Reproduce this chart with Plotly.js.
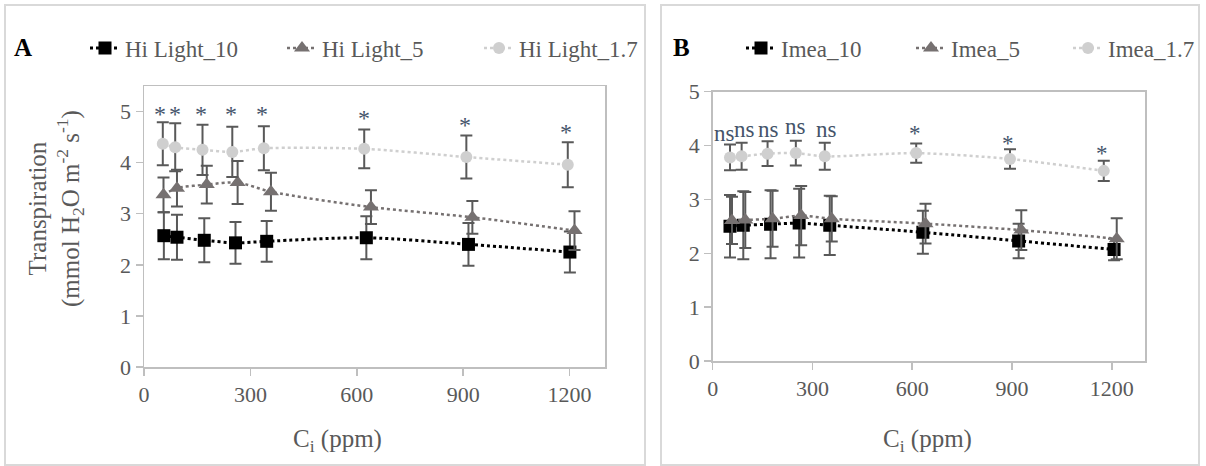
<!DOCTYPE html>
<html>
<head>
<meta charset="utf-8">
<script src="https://cdn.plot.ly/plotly-3.0.1.min.js"></script>
<style>html,body{margin:0;padding:0;background:#fff;overflow:hidden;}#chart{width:1206px;height:466px;}</style>
</head>
<body>
<div id="chart"></div>
<script>
// ---------- Panel A data (Hi Light) ----------
const hi10X = [56, 93, 170, 258, 346, 627, 915, 1201];
const hi10Y = [2.57, 2.54, 2.48, 2.43, 2.46, 2.53, 2.40, 2.25];
const hi10Err = [0.46, 0.44, 0.43, 0.41, 0.40, 0.42, 0.42, 0.40];
const hi5X = [55, 93, 177, 264, 358, 640, 926, 1214];
const hi5Y = [3.37, 3.50, 3.57, 3.61, 3.43, 3.13, 2.93, 2.67];
const hi5Err = [0.34, 0.36, 0.37, 0.42, 0.37, 0.33, 0.32, 0.38];
const hi17X = [53, 88, 165, 249, 338, 621, 909, 1195];
const hi17Y = [4.37, 4.30, 4.25, 4.21, 4.28, 4.27, 4.11, 3.96];
const hi17Err = [0.42, 0.47, 0.49, 0.49, 0.43, 0.38, 0.42, 0.44];
const sigAX = [45, 87, 161, 246, 334, 619, 904, 1190];
const sigAY = [5.04, 5.04, 5.04, 5.04, 5.04, 4.97, 4.83, 4.70];
const sigAText = ["*", "*", "*", "*", "*", "*", "*", "*"];

// ---------- Panel B data (Imea) ----------
const im10X = [52, 92, 174, 260, 352, 632, 920, 1207];
const im10Y = [2.50, 2.52, 2.54, 2.56, 2.52, 2.39, 2.23, 2.07];
const im10Err = [0.58, 0.63, 0.63, 0.64, 0.55, 0.40, 0.32, 0.20];
const im5X = [58, 98, 180, 266, 358, 640, 928, 1215];
const im5Y = [2.61, 2.62, 2.64, 2.70, 2.64, 2.55, 2.43, 2.27];
const im5Err = [0.44, 0.52, 0.52, 0.55, 0.42, 0.37, 0.37, 0.38];
const im17X = [52, 87, 165, 250, 337, 612, 894, 1176];
const im17Y = [3.78, 3.80, 3.85, 3.86, 3.80, 3.86, 3.75, 3.53];
const im17Err = [0.24, 0.25, 0.23, 0.23, 0.25, 0.18, 0.18, 0.19];
const sigBX = [34, 97, 167, 250, 342, 607, 887, 1172];
const sigBY = [4.22, 4.29, 4.29, 4.35, 4.29, 4.31, 4.14, 3.94];
const sigBText = ["ns", "ns", "ns", "ns", "ns", "*", "*", "*"];

const xTicks = [0, 300, 600, 900, 1200];
const yTicks = [0, 1, 2, 3, 4, 5];

const SERIF = "Liberation Serif";
const C10 = "#000000", C5 = "#767171", C17 = "#cfcfcf", ERR = "#595959";
const W = 1206, H = 466;
const px = v => v / W, py = v => 1 - v / H;

function series(x, y, err, name, color, symbol, size, lw, xa, ya, legend) {
  return {
    type: "scatter", mode: "lines+markers", x: x, y: y, name: name,
    xaxis: xa, yaxis: ya, legend: legend,
    line: {color: color, width: lw, dash: "dot", shape: "spline", smoothing: 0.8},
    marker: {color: color, symbol: symbol, size: size},
    error_y: {type: "data", array: err, visible: true, color: ERR, thickness: 2, width: 6}
  };
}

const traces = [
  series(hi10X, hi10Y, hi10Err, "Hi Light_10", C10, "square", 13, 3, "x", "y", "legend"),
  series(hi5X, hi5Y, hi5Err, "Hi Light_5", C5, "triangle-up", 14, 2.5, "x", "y", "legend"),
  series(hi17X, hi17Y, hi17Err, "Hi Light_1.7", C17, "circle", 12, 2.5, "x", "y", "legend"),
  series(im10X, im10Y, im10Err, "Imea_10", C10, "square", 13, 3, "x2", "y2", "legend2"),
  series(im5X, im5Y, im5Err, "Imea_5", C5, "triangle-up", 14, 2.5, "x2", "y2", "legend2"),
  series(im17X, im17Y, im17Err, "Imea_1.7", C17, "circle", 12, 2.5, "x2", "y2", "legend3")
];

const axisCommon = {
  showline: true, linecolor: "#bfbfbf", linewidth: 1.5, mirror: true,
  ticks: "outside", ticklen: 7, tickcolor: "#bfbfbf", tickwidth: 1.5,
  showgrid: false, zeroline: false,
  tickfont: {family: SERIF, size: 22, color: "#595959"}
};

const annotations = [];
sigAX.forEach((x, i) => annotations.push({
  x: x, y: sigAY[i], xref: "x", yref: "y", text: sigAText[i], showarrow: false,
  xanchor: "center", yanchor: "middle",
  yshift: -5, font: {family: SERIF, size: 24, color: "#44546A"}
}));
sigBX.forEach((x, i) => annotations.push({
  x: x, y: sigBY[i], xref: "x2", yref: "y2", text: sigBText[i], showarrow: false,
  xanchor: "center", yanchor: "middle",
  yshift: sigBText[i] === "*" ? -5 : 0, font: {family: SERIF, size: 23, color: "#44546A"}
}));
function paperText(x, y, text, size, color, angle) {
  return {x: px(x), y: py(y), xref: "paper", yref: "paper", text: text, showarrow: false,
    xanchor: "center", yanchor: "middle", textangle: angle || 0,
    font: {family: SERIF, size: size, color: color}};
}
// panel letters
annotations.push(paperText(23, 48, "<b>A</b>", 25, "#000"));
annotations.push(paperText(681, 48, "<b>B</b>", 25, "#000"));
// axis titles
const xTitle = "C<sub>i</sub> (ppm)";
annotations.push(paperText(337, 440, xTitle, 25, "#595959"));
annotations.push(paperText(927, 440, xTitle, 25, "#595959"));
annotations.push(paperText(56, 208, "Transpiration<br>(mmol H<sub>2</sub>O m<sup>-2</sup> s<sup>-1</sup>)", 25, "#595959", -90));

const legendFont = {family: SERIF, size: 23, color: "#595959"};
const layout = {
  width: W, height: H, margin: {l: 0, r: 0, t: 0, b: 0, autoexpand: false},
  paper_bgcolor: "#fff", plot_bgcolor: "#fff",
  showlegend: true,
  xaxis: Object.assign({}, axisCommon, {domain: [px(144), px(605)], range: [0, 1300], tickvals: xTicks, anchor: "y"}),
  yaxis: Object.assign({}, axisCommon, {domain: [py(367), py(86)], range: [0, 5.5], tickvals: yTicks, anchor: "x"}),
  xaxis2: Object.assign({}, axisCommon, {domain: [px(712.7), px(1145)], range: [0, 1300], tickvals: xTicks, anchor: "y2"}),
  yaxis2: Object.assign({}, axisCommon, {domain: [py(361), py(91.7)], range: [0, 5], tickvals: yTicks, anchor: "x2"}),
  legend: {orientation: "h", x: px(85), y: py(48), xanchor: "left", yanchor: "middle",
    entrywidth: 152, bgcolor: "rgba(0,0,0,0)", font: legendFont},
  legend2: {orientation: "h", x: px(741), y: py(48), xanchor: "left", yanchor: "middle",
    entrywidth: 125, bgcolor: "rgba(0,0,0,0)", font: legendFont},
  legend3: {orientation: "h", x: px(1068), y: py(48), xanchor: "left", yanchor: "middle",
    bgcolor: "rgba(0,0,0,0)", font: legendFont},
  annotations: annotations,
  shapes: [
    {type: "rect", xref: "paper", yref: "paper", x0: px(5), x1: px(645), y0: py(465), y1: py(5),
      line: {color: "#d9d9d9", width: 2}},
    {type: "rect", xref: "paper", yref: "paper", x0: px(661), x1: px(1199), y0: py(465), y1: py(5),
      line: {color: "#d9d9d9", width: 2}}
  ]
};

Plotly.newPlot("chart", traces, layout, {displayModeBar: false, staticPlot: true});
</script>
</body>
</html>
